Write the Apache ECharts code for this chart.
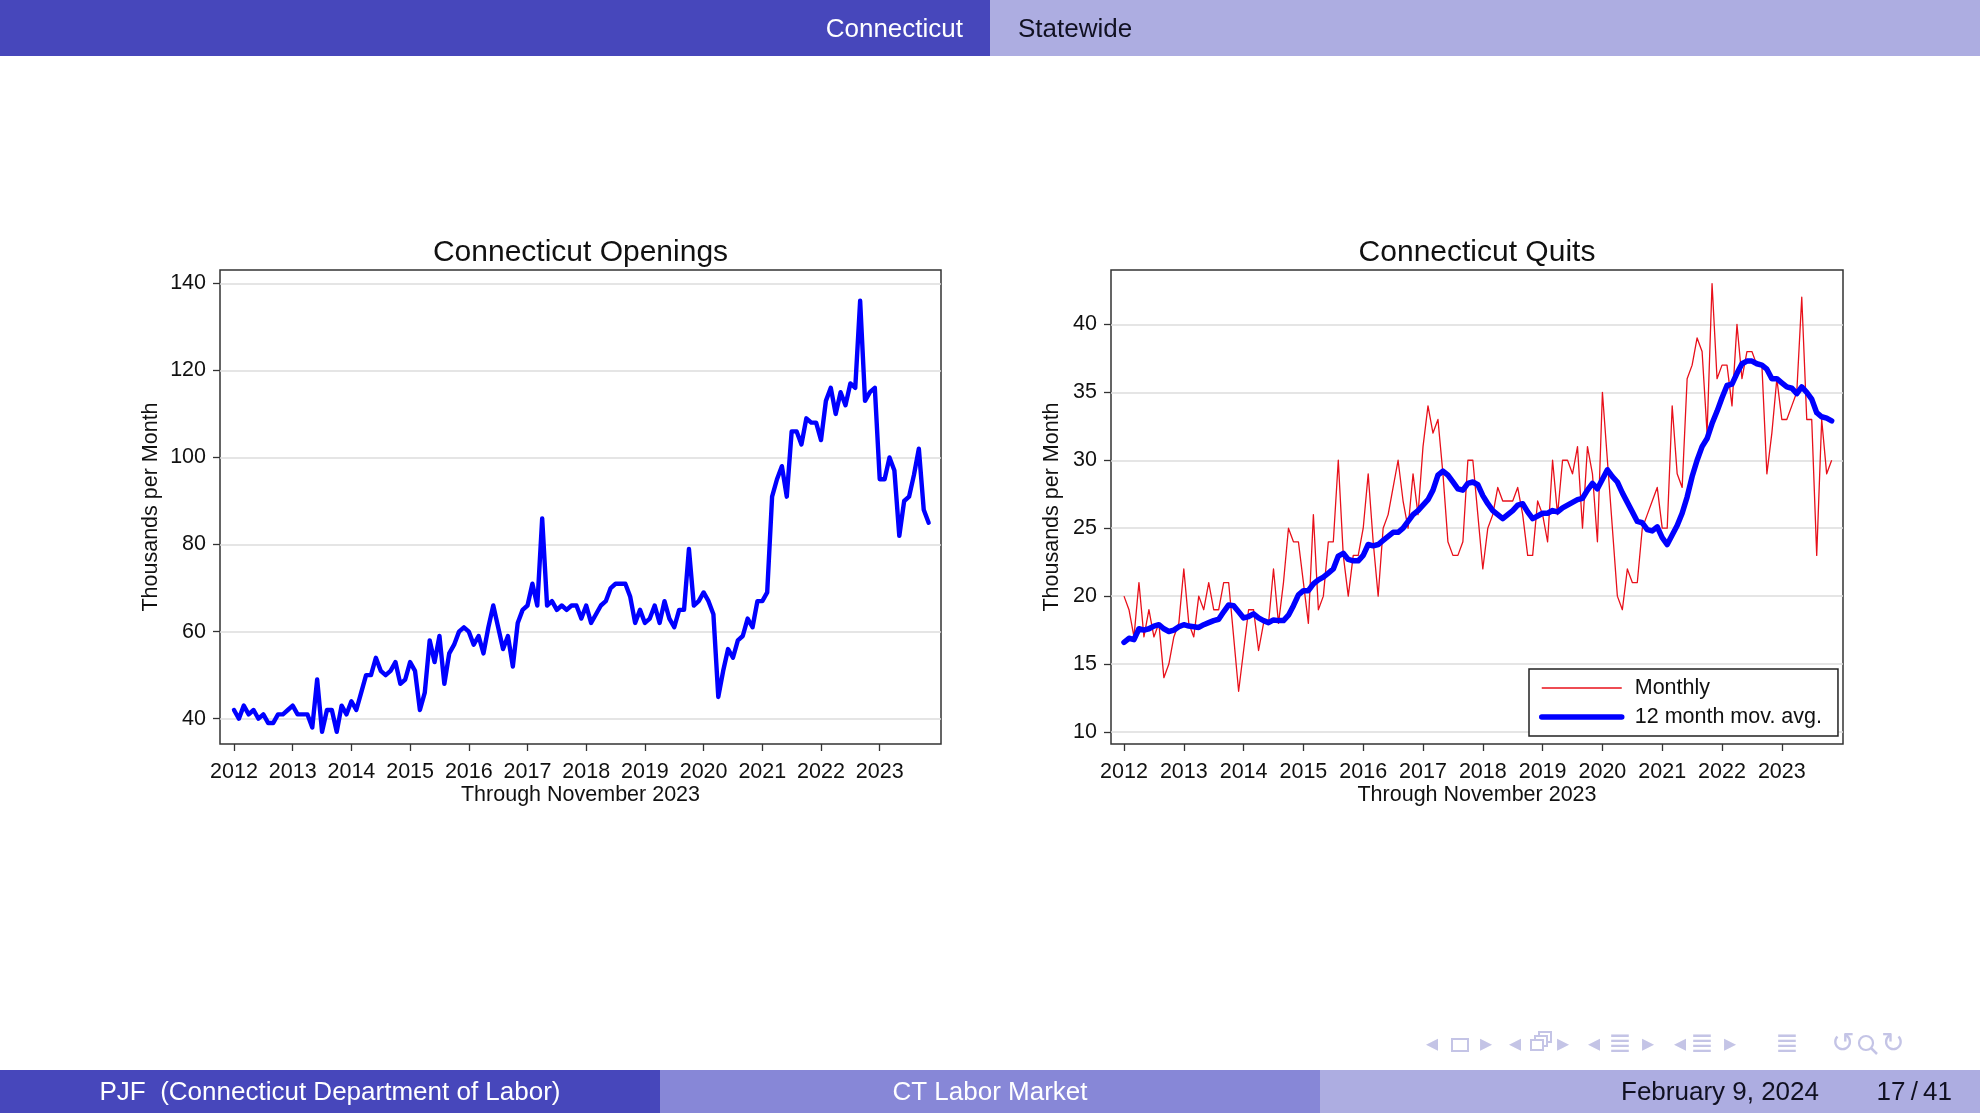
<!DOCTYPE html>
<html>
<head>
<meta charset="utf-8">
<title>Connecticut Openings and Quits</title>
<script src="https://cdn.jsdelivr.net/npm/echarts@6/dist/echarts.min.js"></script>
<style>
  html, body { margin: 0; padding: 0; background: #fff; }
  #main { width: 1980px; height: 1113px; }
</style>
</head>
<body>
<div id="main"></div>
<script>
// tick labels
var years = [2012, 2013, 2014, 2015, 2016, 2017, 2018, 2019, 2020, 2021, 2022, 2023];
var openTicks = [40, 60, 80, 100, 120, 140];
var quitTicks = [10, 15, 20, 25, 30, 35, 40];

// monthly values, Jan 2012 .. Nov 2023 (thousands)
var openings = [
  42, 40, 43, 41, 42, 40, 41, 39, 39, 41, 41, 42,
  43, 41, 41, 41, 38, 49, 37, 42, 42, 37, 43, 41,
  44, 42, 46, 50, 50, 54, 51, 50, 51, 53, 48, 49,
  53, 51, 42, 46, 58, 53, 59, 48, 55, 57, 60, 61,
  60, 57, 59, 55, 61, 66, 61, 56, 59, 52, 62, 65,
  66, 71, 66, 86, 66, 67, 65, 66, 65, 66, 66, 63,
  66, 62, 64, 66, 67, 70, 71, 71, 71, 68, 62, 65,
  62, 63, 66, 62, 67, 63, 61, 65, 65, 79, 66, 67,
  69, 67, 64, 45, 51, 56, 54, 58, 59, 63, 61, 67,
  67, 69, 91, 95, 98, 91, 106, 106, 103, 109, 108, 108,
  104, 113, 116, 110, 115, 112, 117, 116, 136, 113, 115, 116,
  95, 95, 100, 97, 82, 90, 91, 96, 102, 88, 85
];
var quitsMonthly = [
  20, 19, 17, 21, 17, 19, 17, 18, 14, 15, 17, 18,
  22, 18, 17, 20, 19, 21, 19, 19, 21, 21, 17, 13,
  16, 19, 19, 16, 18, 18, 22, 18, 21, 25, 24, 24,
  21, 18, 26, 19, 20, 24, 24, 30, 23, 20, 23, 23,
  25, 29, 24, 20, 25, 26, 28, 30, 27, 25, 29, 26,
  31, 34, 32, 33, 29, 24, 23, 23, 24, 30, 30, 26,
  22, 25, 26, 28, 27, 27, 27, 28, 26, 23, 23, 27,
  26, 24, 30, 26, 30, 30, 29, 31, 25, 31, 29, 24,
  35, 30, 25, 20, 19, 22, 21, 21, 25, 26, 27, 28,
  25, 25, 34, 29, 28, 36, 37, 39, 38, 32, 43, 36,
  37, 37, 34, 40, 36, 38, 38, 37, 37, 29, 32, 36,
  33, 33, 34, 35, 42, 33, 33, 23, 33, 29, 30
];
var quitsAvg = [
  16.6, 16.9, 16.8, 17.6, 17.5, 17.6, 17.8, 17.9, 17.6, 17.4, 17.5, 17.75,
  17.9, 17.8, 17.75, 17.7, 17.9, 18.05, 18.2, 18.3, 18.85, 19.35, 19.3, 18.85,
  18.4, 18.5, 18.7, 18.4, 18.2, 18.05, 18.25, 18.2, 18.2, 18.6, 19.3, 20.1,
  20.4, 20.4, 20.9, 21.2, 21.4, 21.7, 22.0, 22.95, 23.15, 22.7, 22.6, 22.6,
  23.0, 23.8, 23.7, 23.8, 24.1, 24.4, 24.7, 24.7, 25.0, 25.5, 26.0, 26.3,
  26.7, 27.1, 27.8, 28.9, 29.2, 28.9, 28.4, 27.9, 27.8, 28.3, 28.4, 28.2,
  27.4, 26.8, 26.3, 26.0, 25.7, 26.0, 26.3, 26.7, 26.8, 26.2, 25.7, 25.9,
  26.1, 26.1, 26.3, 26.2, 26.5, 26.7, 26.9, 27.1, 27.2, 27.8, 28.3, 27.9,
  28.6, 29.3, 28.8, 28.4, 27.6, 26.9, 26.2, 25.5, 25.4, 24.9, 24.8, 25.1,
  24.3, 23.8, 24.5, 25.2, 26.1, 27.3, 28.8, 30.0, 31.0, 31.6, 32.7, 33.6,
  34.6, 35.5, 35.6, 36.4, 37.1, 37.3, 37.3, 37.1, 37.0, 36.7, 36.0, 36.0,
  35.7, 35.4, 35.3, 34.9, 35.4, 35.0, 34.5, 33.5, 33.2, 33.1, 32.9
];

var FONT = '"Liberation Sans", Arial, Helvetica, sans-serif';
var DARK = '#4747bb';
var MID = '#8787d7';
var LIGHT = '#adade1';
var NAV = '#c4c4e6';

function monthly(arr) {
  return arr.map(function (v, i) { return [2012 + i / 12, v]; });
}

function xAxisFor(gi, min, max) {
  return {
    type: 'value', gridIndex: gi, min: min, max: max,
    axisLine: { show: false, onZero: false },
    axisTick: { show: true, customValues: years, length: 7, lineStyle: { color: '#333', width: 1.3 } },
    axisLabel: {
      customValues: years, margin: 17, fontSize: 21.5, color: '#111', fontFamily: FONT,
      formatter: function (v) { return String(Math.round(v)); }
    },
    splitLine: { show: false },
    name: 'Through November 2023', nameLocation: 'middle', nameGap: 40, nameMoveOverlap: false,
    nameTextStyle: { fontSize: 21.5, color: '#111', fontFamily: FONT }
  };
}

function yAxisFor(gi, min, max, ticks, gap) {
  return {
    type: 'value', gridIndex: gi, min: min, max: max,
    axisLine: { show: false },
    axisTick: { show: true, customValues: ticks, length: 7, lineStyle: { color: '#333', width: 1.3 } },
    axisLabel: { customValues: ticks, margin: 14, fontSize: 21.5, color: '#111', fontFamily: FONT },
    splitLine: { show: true, lineStyle: { color: '#dcdcdc', width: 1.5 } },
    name: 'Thousands per Month', nameLocation: 'middle', nameGap: gap, nameMoveOverlap: false,
    nameTextStyle: { fontSize: 21.5, color: '#111', fontFamily: FONT }
  };
}

function txt(x, y, s, size, color, align) {
  return {
    type: 'text', x: x, y: y, silent: true,
    style: { text: s, fontSize: size, fontFamily: FONT, fill: color, align: align || 'center', verticalAlign: 'middle' }
  };
}
function box(x, y, w, h, fill) {
  return { type: 'rect', shape: { x: x, y: y, width: w, height: h }, style: { fill: fill }, silent: true };
}
function navGlyph(x, s, size) {
  return {
    type: 'text', x: x, y: 1045, silent: true,
    style: { text: s, fontSize: size, fontFamily: '"DejaVu Sans", sans-serif', fill: NAV, align: 'center', verticalAlign: 'middle' }
  };
}
function frameIcon(x, y, w, h) {
  return { type: 'rect', shape: { x: x, y: y, width: w, height: h }, style: { fill: '#fff', stroke: NAV, lineWidth: 2 }, silent: true };
}

var chart = echarts.init(document.getElementById('main'));

var option = {
  animation: false,
  backgroundColor: '#fff',
  textStyle: { fontFamily: FONT },
  grid: [
    { left: 220, top: 270, width: 721, height: 474, show: true, borderColor: '#333', borderWidth: 1.5, backgroundColor: 'transparent', outerBoundsMode: 'none' },
    { left: 1111, top: 270, width: 732, height: 474, show: true, borderColor: '#333', borderWidth: 1.5, backgroundColor: 'transparent', outerBoundsMode: 'none' }
  ],
  xAxis: [
    xAxisFor(0, 2011.7615, 2024.044),
    xAxisFor(1, 2011.7826, 2024.023)
  ],
  yAxis: [
    yAxisFor(0, 34.19, 143.06, openTicks, 58),
    yAxisFor(1, 9.12, 44.0, quitTicks, 48)
  ],
  legend: {
    data: [
      { name: 'Monthly', lineStyle: { width: 1.3 } },
      { name: '12 month mov. avg.', lineStyle: { width: 5.5 } }
    ],
    orient: 'vertical',
    left: 1529, top: 669,
    padding: [8, 16, 8, 10],
    itemWidth: 80, itemHeight: 20, itemGap: 7,
    borderColor: '#222', borderWidth: 1.5, borderRadius: 0,
    backgroundColor: '#fff',
    itemStyle: { opacity: 0 },
    textStyle: { fontSize: 21.5, color: '#111', fontFamily: FONT, padding: [0, 0, 0, 8] },
    selectedMode: false
  },
  series: [
    {
      name: 'Openings', type: 'line', xAxisIndex: 0, yAxisIndex: 0,
      data: monthly(openings), symbol: 'none',
      lineStyle: { color: '#0000ff', width: 4.4, join: 'round', cap: 'round' },
      itemStyle: { color: '#0000ff' }
    },
    {
      name: 'Monthly', type: 'line', xAxisIndex: 1, yAxisIndex: 1,
      data: monthly(quitsMonthly), symbol: 'none',
      lineStyle: { color: '#e8101a', width: 1.3, join: 'round' },
      itemStyle: { color: '#e8101a' }
    },
    {
      name: '12 month mov. avg.', type: 'line', xAxisIndex: 1, yAxisIndex: 1,
      data: monthly(quitsAvg), symbol: 'none',
      lineStyle: { color: '#0000ff', width: 5.5, join: 'round', cap: 'round' },
      itemStyle: { color: '#0000ff' }
    }
  ],
  graphic: [
    // header
    box(0, 0, 990, 56, DARK),
    box(990, 0, 990, 56, LIGHT),
    txt(963, 29.5, 'Connecticut', 26, '#ffffff', 'right'),
    txt(1018, 29.5, 'Statewide', 26, '#111122', 'left'),
    // chart titles
    txt(580.5, 253, 'Connecticut Openings', 30, '#111', 'center'),
    txt(1477, 253, 'Connecticut Quits', 30, '#111', 'center'),
    // footer
    box(0, 1070, 660, 43, DARK),
    box(660, 1070, 660, 43, MID),
    box(1320, 1070, 660, 43, LIGHT),
    txt(330, 1092.5, 'PJF  (Connecticut Department of Labor)', 26, '#ffffff', 'center'),
    txt(990, 1092.5, 'CT Labor Market', 26, '#ffffff', 'center'),
    txt(1720, 1092.5, 'February 9, 2024', 26, '#111122', 'center'),
    txt(1952, 1092.5, '17\u2009/\u200941', 26, '#111122', 'right'),
    // navigation symbols
    navGlyph(1432, '\u25C2', 24),
    { type: 'rect', shape: { x: 1452, y: 1039, width: 16, height: 12 }, style: { fill: 'none', stroke: NAV, lineWidth: 2 }, silent: true },
    navGlyph(1486, '\u25B8', 24),
    navGlyph(1515, '\u25C2', 24),
    frameIcon(1539, 1032, 12, 10),
    frameIcon(1535, 1036, 12, 10),
    frameIcon(1531, 1040, 12, 10),
    navGlyph(1563, '\u25B8', 24),
    navGlyph(1594, '\u25C2', 24),
    navGlyph(1620, '\u2263', 28),
    navGlyph(1648, '\u25B8', 24),
    navGlyph(1680, '\u25C2', 24),
    navGlyph(1702, '\u2263', 28),
    navGlyph(1730, '\u25B8', 24),
    navGlyph(1787, '\u2263', 28),
    navGlyph(1843, '\u21BA', 28),
    { type: 'circle', shape: { cx: 1866, cy: 1043, r: 7 }, style: { fill: 'none', stroke: NAV, lineWidth: 2.2 }, silent: true },
    { type: 'line', shape: { x1: 1871, y1: 1048, x2: 1877, y2: 1054 }, style: { stroke: NAV, lineWidth: 2.5 }, silent: true },
    navGlyph(1893, '\u21BB', 28)
  ]
};

chart.setOption(option);
</script>
</body>
</html>
